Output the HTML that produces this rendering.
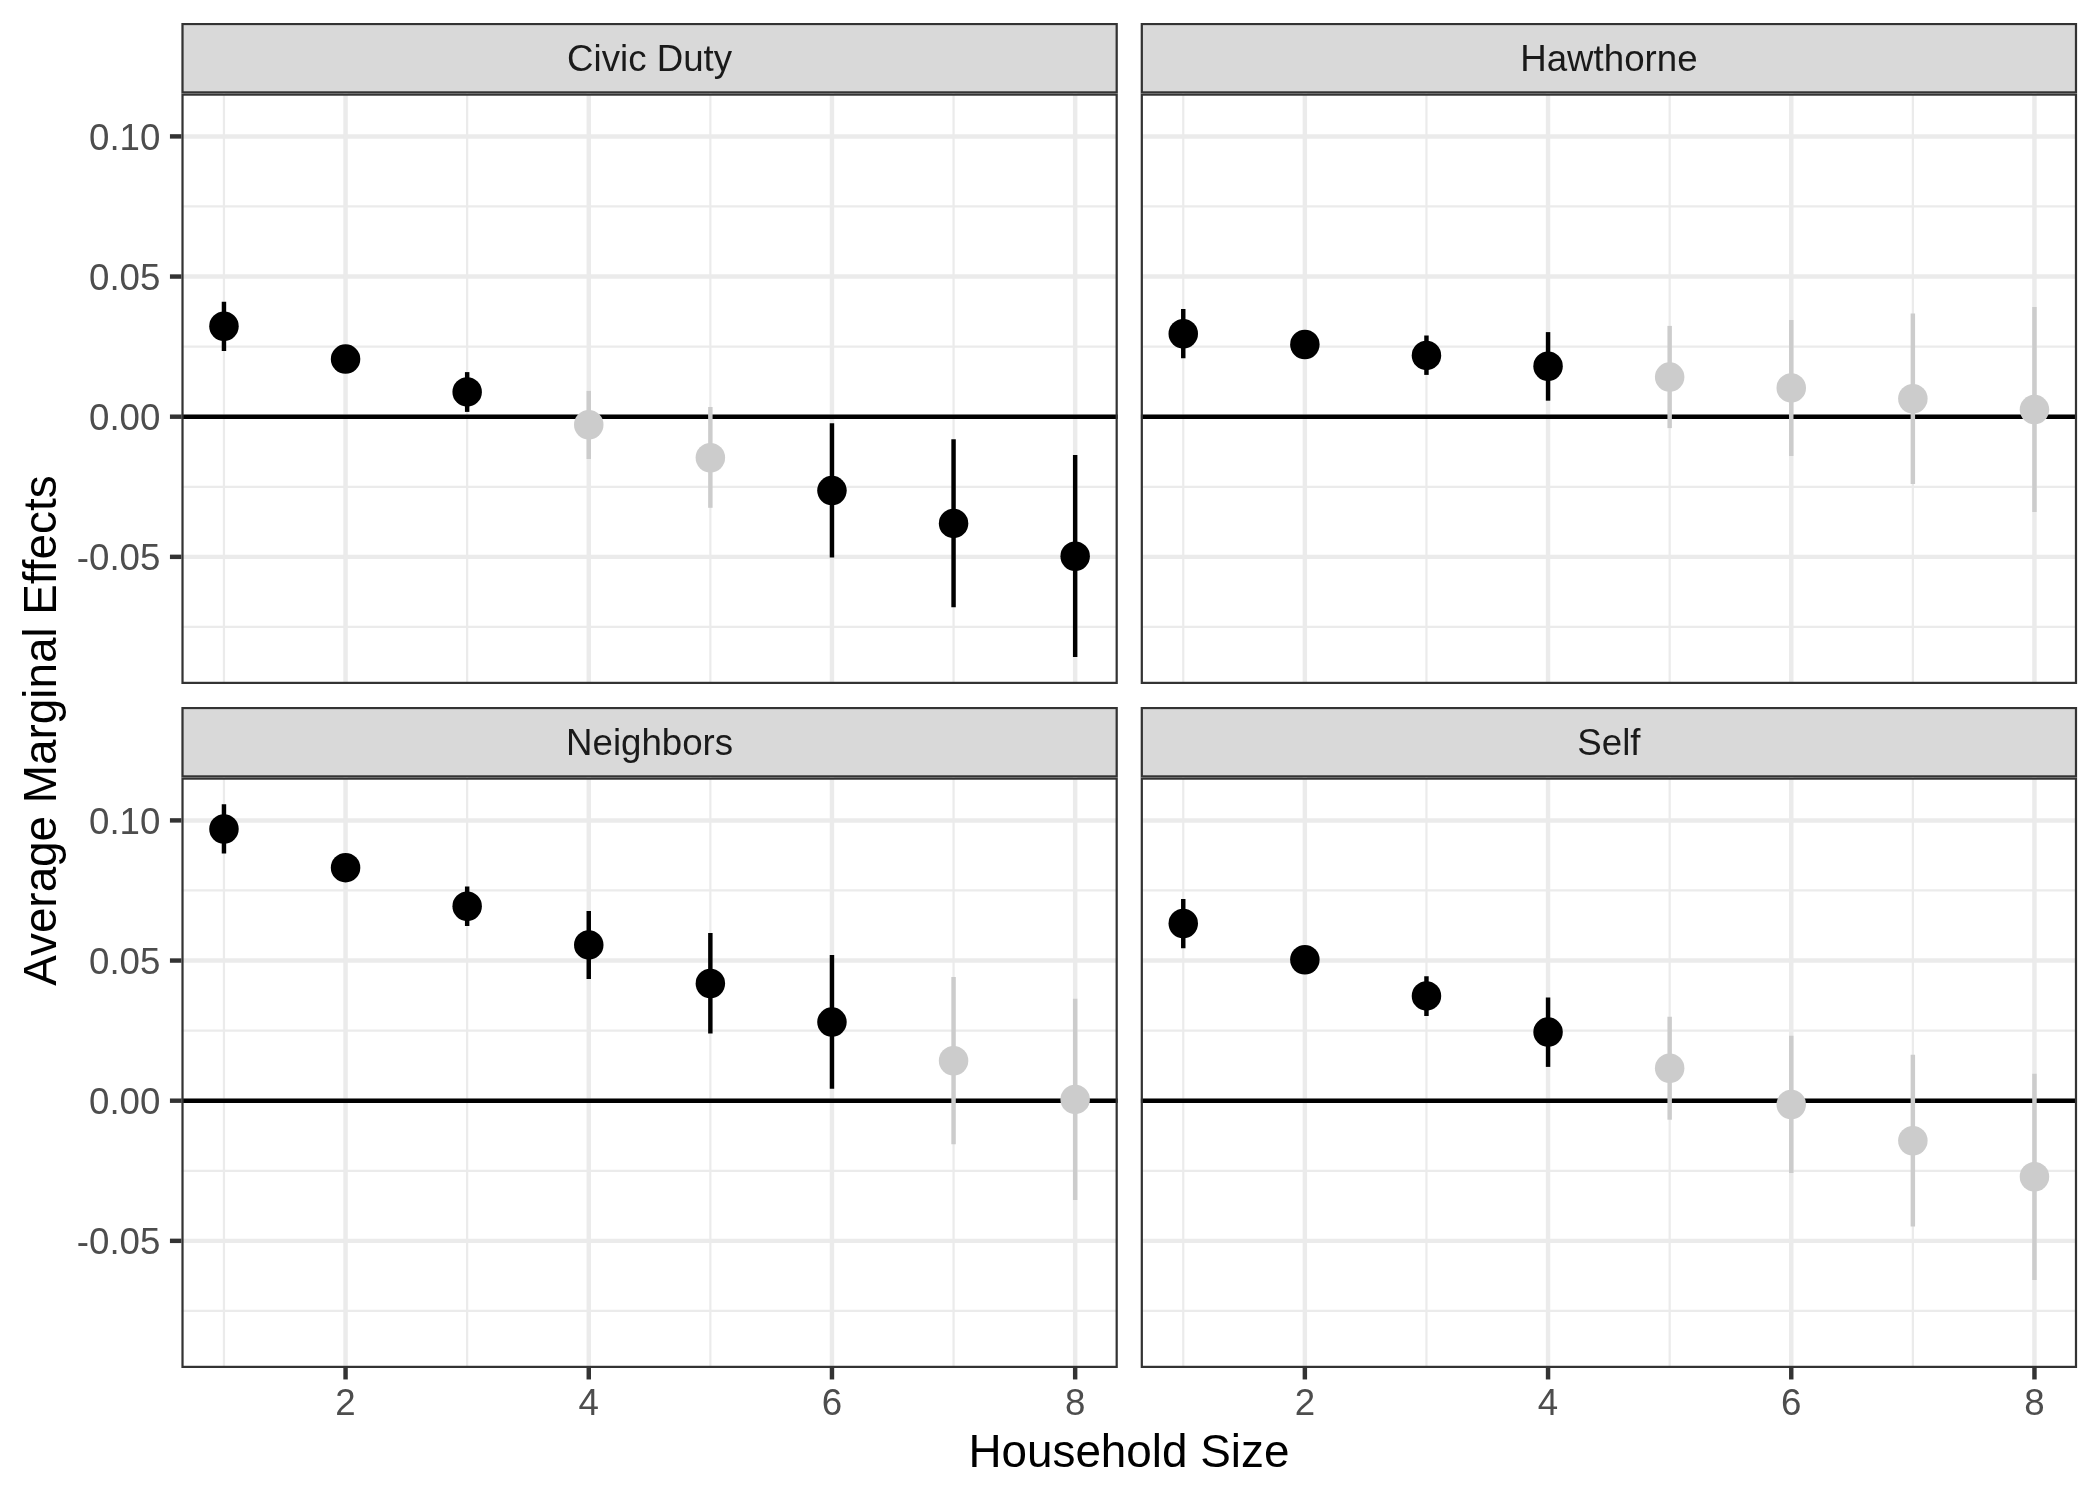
<!DOCTYPE html>
<html>
<head>
<meta charset="utf-8">
<title>Average Marginal Effects by Household Size</title>
<style>
html,body{margin:0;padding:0;background:#ffffff;}
body{width:2100px;height:1500px;overflow:hidden;}
svg{display:block;will-change:transform;}
svg text{font-family:"Liberation Sans",sans-serif;}
</style>
</head>
<body>
<svg width="2100" height="1500" viewBox="0 0 2100 1500">
<rect x="0" y="0" width="2100" height="1500" fill="#ffffff"/>
<defs>
<clipPath id="cp0"><rect x="181.4" y="93.5" width="936.40" height="590.5"/></clipPath>
<clipPath id="cs0"><rect x="181.4" y="22.9" width="936.40" height="70.60"/></clipPath>
<clipPath id="cp1"><rect x="1140.7" y="93.5" width="936.40" height="590.5"/></clipPath>
<clipPath id="cs1"><rect x="1140.7" y="22.9" width="936.40" height="70.60"/></clipPath>
<clipPath id="cp2"><rect x="181.4" y="777.5" width="936.40" height="590.5"/></clipPath>
<clipPath id="cs2"><rect x="181.4" y="706.9" width="936.40" height="70.60"/></clipPath>
<clipPath id="cp3"><rect x="1140.7" y="777.5" width="936.40" height="590.5"/></clipPath>
<clipPath id="cs3"><rect x="1140.7" y="706.9" width="936.40" height="70.60"/></clipPath>
</defs>
<g clip-path="url(#cs0)"><rect x="181.4" y="22.9" width="936.40" height="70.60" fill="#D9D9D9" stroke="#333333" stroke-width="4.45"/></g>
<text x="649.60" y="71.00" font-size="36.67" fill="#1A1A1A" text-anchor="middle">Civic Duty</text>
<g clip-path="url(#cp0)">
<rect x="181.4" y="93.5" width="936.40" height="590.5" fill="#ffffff"/>
<line x1="181.4" x2="1117.8" y1="206.48" y2="206.48" stroke="#EBEBEB" stroke-width="2.22"/>
<line x1="181.4" x2="1117.8" y1="346.62" y2="346.62" stroke="#EBEBEB" stroke-width="2.22"/>
<line x1="181.4" x2="1117.8" y1="486.77" y2="486.77" stroke="#EBEBEB" stroke-width="2.22"/>
<line x1="181.4" x2="1117.8" y1="626.92" y2="626.92" stroke="#EBEBEB" stroke-width="2.22"/>
<line x1="223.96" x2="223.96" y1="93.5" y2="684.0" stroke="#EBEBEB" stroke-width="2.22"/>
<line x1="467.16" x2="467.16" y1="93.5" y2="684.0" stroke="#EBEBEB" stroke-width="2.22"/>
<line x1="710.36" x2="710.36" y1="93.5" y2="684.0" stroke="#EBEBEB" stroke-width="2.22"/>
<line x1="953.56" x2="953.56" y1="93.5" y2="684.0" stroke="#EBEBEB" stroke-width="2.22"/>
<line x1="181.4" x2="1117.8" y1="136.40" y2="136.40" stroke="#EBEBEB" stroke-width="4.45"/>
<line x1="181.4" x2="1117.8" y1="276.55" y2="276.55" stroke="#EBEBEB" stroke-width="4.45"/>
<line x1="181.4" x2="1117.8" y1="416.70" y2="416.70" stroke="#EBEBEB" stroke-width="4.45"/>
<line x1="181.4" x2="1117.8" y1="556.85" y2="556.85" stroke="#EBEBEB" stroke-width="4.45"/>
<line x1="345.56" x2="345.56" y1="93.5" y2="684.0" stroke="#EBEBEB" stroke-width="4.45"/>
<line x1="588.76" x2="588.76" y1="93.5" y2="684.0" stroke="#EBEBEB" stroke-width="4.45"/>
<line x1="831.96" x2="831.96" y1="93.5" y2="684.0" stroke="#EBEBEB" stroke-width="4.45"/>
<line x1="1075.16" x2="1075.16" y1="93.5" y2="684.0" stroke="#EBEBEB" stroke-width="4.45"/>
<line x1="181.4" x2="1117.8" y1="416.70" y2="416.70" stroke="#000" stroke-width="4.45"/>
<line x1="223.96" x2="223.96" y1="301.7" y2="350.9" stroke="#000000" stroke-width="4.45"/>
<line x1="345.56" x2="345.56" y1="349" y2="369" stroke="#000000" stroke-width="4.45"/>
<line x1="467.16" x2="467.16" y1="372.1" y2="411.9" stroke="#000000" stroke-width="4.45"/>
<line x1="588.76" x2="588.76" y1="390.9" y2="459" stroke="#CCCCCC" stroke-width="4.45"/>
<line x1="710.36" x2="710.36" y1="407" y2="507.8" stroke="#CCCCCC" stroke-width="4.45"/>
<line x1="831.96" x2="831.96" y1="423.3" y2="557.4" stroke="#000000" stroke-width="4.45"/>
<line x1="953.56" x2="953.56" y1="439.3" y2="607.3" stroke="#000000" stroke-width="4.45"/>
<line x1="1075.16" x2="1075.16" y1="455" y2="657.1" stroke="#000000" stroke-width="4.45"/>
<circle cx="223.96" cy="326.2" r="14.75" fill="#000000"/>
<circle cx="345.56" cy="359.07" r="14.75" fill="#000000"/>
<circle cx="467.16" cy="391.94" r="14.75" fill="#000000"/>
<circle cx="588.76" cy="424.8" r="14.75" fill="#CCCCCC"/>
<circle cx="710.36" cy="457.7" r="14.75" fill="#CCCCCC"/>
<circle cx="831.96" cy="490.6" r="14.75" fill="#000000"/>
<circle cx="953.56" cy="523.4" r="14.75" fill="#000000"/>
<circle cx="1075.16" cy="556.3" r="14.75" fill="#000000"/>
<rect x="181.4" y="93.5" width="936.40" height="590.5" fill="none" stroke="#333333" stroke-width="4.45"/>
</g>
<line x1="169.94" x2="181.4" y1="136.40" y2="136.40" stroke="#333333" stroke-width="4.45"/>
<text x="160.4" y="149.70" font-size="36.67" fill="#4D4D4D" text-anchor="end">0.10</text>
<line x1="169.94" x2="181.4" y1="276.55" y2="276.55" stroke="#333333" stroke-width="4.45"/>
<text x="160.4" y="289.85" font-size="36.67" fill="#4D4D4D" text-anchor="end">0.05</text>
<line x1="169.94" x2="181.4" y1="416.70" y2="416.70" stroke="#333333" stroke-width="4.45"/>
<text x="160.4" y="430.00" font-size="36.67" fill="#4D4D4D" text-anchor="end">0.00</text>
<line x1="169.94" x2="181.4" y1="556.85" y2="556.85" stroke="#333333" stroke-width="4.45"/>
<text x="160.4" y="570.15" font-size="36.67" fill="#4D4D4D" text-anchor="end">-0.05</text>
<g clip-path="url(#cs1)"><rect x="1140.7" y="22.9" width="936.40" height="70.60" fill="#D9D9D9" stroke="#333333" stroke-width="4.45"/></g>
<text x="1608.90" y="71.00" font-size="36.67" fill="#1A1A1A" text-anchor="middle">Hawthorne</text>
<g clip-path="url(#cp1)">
<rect x="1140.7" y="93.5" width="936.40" height="590.5" fill="#ffffff"/>
<line x1="1140.7" x2="2077.1" y1="206.48" y2="206.48" stroke="#EBEBEB" stroke-width="2.22"/>
<line x1="1140.7" x2="2077.1" y1="346.62" y2="346.62" stroke="#EBEBEB" stroke-width="2.22"/>
<line x1="1140.7" x2="2077.1" y1="486.77" y2="486.77" stroke="#EBEBEB" stroke-width="2.22"/>
<line x1="1140.7" x2="2077.1" y1="626.92" y2="626.92" stroke="#EBEBEB" stroke-width="2.22"/>
<line x1="1183.26" x2="1183.26" y1="93.5" y2="684.0" stroke="#EBEBEB" stroke-width="2.22"/>
<line x1="1426.46" x2="1426.46" y1="93.5" y2="684.0" stroke="#EBEBEB" stroke-width="2.22"/>
<line x1="1669.66" x2="1669.66" y1="93.5" y2="684.0" stroke="#EBEBEB" stroke-width="2.22"/>
<line x1="1912.86" x2="1912.86" y1="93.5" y2="684.0" stroke="#EBEBEB" stroke-width="2.22"/>
<line x1="1140.7" x2="2077.1" y1="136.40" y2="136.40" stroke="#EBEBEB" stroke-width="4.45"/>
<line x1="1140.7" x2="2077.1" y1="276.55" y2="276.55" stroke="#EBEBEB" stroke-width="4.45"/>
<line x1="1140.7" x2="2077.1" y1="416.70" y2="416.70" stroke="#EBEBEB" stroke-width="4.45"/>
<line x1="1140.7" x2="2077.1" y1="556.85" y2="556.85" stroke="#EBEBEB" stroke-width="4.45"/>
<line x1="1304.86" x2="1304.86" y1="93.5" y2="684.0" stroke="#EBEBEB" stroke-width="4.45"/>
<line x1="1548.06" x2="1548.06" y1="93.5" y2="684.0" stroke="#EBEBEB" stroke-width="4.45"/>
<line x1="1791.26" x2="1791.26" y1="93.5" y2="684.0" stroke="#EBEBEB" stroke-width="4.45"/>
<line x1="2034.46" x2="2034.46" y1="93.5" y2="684.0" stroke="#EBEBEB" stroke-width="4.45"/>
<line x1="1140.7" x2="2077.1" y1="416.70" y2="416.70" stroke="#000" stroke-width="4.45"/>
<line x1="1183.26" x2="1183.26" y1="309" y2="358.2" stroke="#000000" stroke-width="4.45"/>
<line x1="1304.86" x2="1304.86" y1="334" y2="355" stroke="#000000" stroke-width="4.45"/>
<line x1="1426.46" x2="1426.46" y1="335.5" y2="374.9" stroke="#000000" stroke-width="4.45"/>
<line x1="1548.06" x2="1548.06" y1="332.1" y2="400.7" stroke="#000000" stroke-width="4.45"/>
<line x1="1669.66" x2="1669.66" y1="325.9" y2="428.1" stroke="#CCCCCC" stroke-width="4.45"/>
<line x1="1791.26" x2="1791.26" y1="320" y2="456" stroke="#CCCCCC" stroke-width="4.45"/>
<line x1="1912.86" x2="1912.86" y1="313.6" y2="484.1" stroke="#CCCCCC" stroke-width="4.45"/>
<line x1="2034.46" x2="2034.46" y1="307" y2="512" stroke="#CCCCCC" stroke-width="4.45"/>
<circle cx="1183.26" cy="333.7" r="14.75" fill="#000000"/>
<circle cx="1304.86" cy="344.5" r="14.75" fill="#000000"/>
<circle cx="1426.46" cy="355.4" r="14.75" fill="#000000"/>
<circle cx="1548.06" cy="366.2" r="14.75" fill="#000000"/>
<circle cx="1669.66" cy="377.1" r="14.75" fill="#CCCCCC"/>
<circle cx="1791.26" cy="387.9" r="14.75" fill="#CCCCCC"/>
<circle cx="1912.86" cy="398.7" r="14.75" fill="#CCCCCC"/>
<circle cx="2034.46" cy="409.6" r="14.75" fill="#CCCCCC"/>
<rect x="1140.7" y="93.5" width="936.40" height="590.5" fill="none" stroke="#333333" stroke-width="4.45"/>
</g>
<g clip-path="url(#cs2)"><rect x="181.4" y="706.9" width="936.40" height="70.60" fill="#D9D9D9" stroke="#333333" stroke-width="4.45"/></g>
<text x="649.60" y="755.00" font-size="36.67" fill="#1A1A1A" text-anchor="middle">Neighbors</text>
<g clip-path="url(#cp2)">
<rect x="181.4" y="777.5" width="936.40" height="590.5" fill="#ffffff"/>
<line x1="181.4" x2="1117.8" y1="890.48" y2="890.48" stroke="#EBEBEB" stroke-width="2.22"/>
<line x1="181.4" x2="1117.8" y1="1030.62" y2="1030.62" stroke="#EBEBEB" stroke-width="2.22"/>
<line x1="181.4" x2="1117.8" y1="1170.78" y2="1170.78" stroke="#EBEBEB" stroke-width="2.22"/>
<line x1="181.4" x2="1117.8" y1="1310.92" y2="1310.92" stroke="#EBEBEB" stroke-width="2.22"/>
<line x1="223.96" x2="223.96" y1="777.5" y2="1368.0" stroke="#EBEBEB" stroke-width="2.22"/>
<line x1="467.16" x2="467.16" y1="777.5" y2="1368.0" stroke="#EBEBEB" stroke-width="2.22"/>
<line x1="710.36" x2="710.36" y1="777.5" y2="1368.0" stroke="#EBEBEB" stroke-width="2.22"/>
<line x1="953.56" x2="953.56" y1="777.5" y2="1368.0" stroke="#EBEBEB" stroke-width="2.22"/>
<line x1="181.4" x2="1117.8" y1="820.40" y2="820.40" stroke="#EBEBEB" stroke-width="4.45"/>
<line x1="181.4" x2="1117.8" y1="960.55" y2="960.55" stroke="#EBEBEB" stroke-width="4.45"/>
<line x1="181.4" x2="1117.8" y1="1100.70" y2="1100.70" stroke="#EBEBEB" stroke-width="4.45"/>
<line x1="181.4" x2="1117.8" y1="1240.85" y2="1240.85" stroke="#EBEBEB" stroke-width="4.45"/>
<line x1="345.56" x2="345.56" y1="777.5" y2="1368.0" stroke="#EBEBEB" stroke-width="4.45"/>
<line x1="588.76" x2="588.76" y1="777.5" y2="1368.0" stroke="#EBEBEB" stroke-width="4.45"/>
<line x1="831.96" x2="831.96" y1="777.5" y2="1368.0" stroke="#EBEBEB" stroke-width="4.45"/>
<line x1="1075.16" x2="1075.16" y1="777.5" y2="1368.0" stroke="#EBEBEB" stroke-width="4.45"/>
<line x1="181.4" x2="1117.8" y1="1100.70" y2="1100.70" stroke="#000" stroke-width="4.45"/>
<line x1="223.96" x2="223.96" y1="804.3" y2="853.4" stroke="#000000" stroke-width="4.45"/>
<line x1="345.56" x2="345.56" y1="857" y2="878" stroke="#000000" stroke-width="4.45"/>
<line x1="467.16" x2="467.16" y1="886.6" y2="925.9" stroke="#000000" stroke-width="4.45"/>
<line x1="588.76" x2="588.76" y1="911" y2="978.9" stroke="#000000" stroke-width="4.45"/>
<line x1="710.36" x2="710.36" y1="933.1" y2="1033.5" stroke="#000000" stroke-width="4.45"/>
<line x1="831.96" x2="831.96" y1="955.1" y2="1088.8" stroke="#000000" stroke-width="4.45"/>
<line x1="953.56" x2="953.56" y1="977" y2="1144.3" stroke="#CCCCCC" stroke-width="4.45"/>
<line x1="1075.16" x2="1075.16" y1="998.7" y2="1199.9" stroke="#CCCCCC" stroke-width="4.45"/>
<circle cx="223.96" cy="829" r="14.75" fill="#000000"/>
<circle cx="345.56" cy="867.64" r="14.75" fill="#000000"/>
<circle cx="467.16" cy="906.28" r="14.75" fill="#000000"/>
<circle cx="588.76" cy="944.9" r="14.75" fill="#000000"/>
<circle cx="710.36" cy="983.5" r="14.75" fill="#000000"/>
<circle cx="831.96" cy="1022.1" r="14.75" fill="#000000"/>
<circle cx="953.56" cy="1060.8" r="14.75" fill="#CCCCCC"/>
<circle cx="1075.16" cy="1099.4" r="14.75" fill="#CCCCCC"/>
<rect x="181.4" y="777.5" width="936.40" height="590.5" fill="none" stroke="#333333" stroke-width="4.45"/>
</g>
<line x1="169.94" x2="181.4" y1="820.40" y2="820.40" stroke="#333333" stroke-width="4.45"/>
<text x="160.4" y="833.70" font-size="36.67" fill="#4D4D4D" text-anchor="end">0.10</text>
<line x1="169.94" x2="181.4" y1="960.55" y2="960.55" stroke="#333333" stroke-width="4.45"/>
<text x="160.4" y="973.85" font-size="36.67" fill="#4D4D4D" text-anchor="end">0.05</text>
<line x1="169.94" x2="181.4" y1="1100.70" y2="1100.70" stroke="#333333" stroke-width="4.45"/>
<text x="160.4" y="1114.00" font-size="36.67" fill="#4D4D4D" text-anchor="end">0.00</text>
<line x1="169.94" x2="181.4" y1="1240.85" y2="1240.85" stroke="#333333" stroke-width="4.45"/>
<text x="160.4" y="1254.15" font-size="36.67" fill="#4D4D4D" text-anchor="end">-0.05</text>
<line x1="345.56" x2="345.56" y1="1368.0" y2="1379.46" stroke="#333333" stroke-width="4.45"/>
<text x="345.56" y="1415.2" font-size="36.67" fill="#4D4D4D" text-anchor="middle">2</text>
<line x1="588.76" x2="588.76" y1="1368.0" y2="1379.46" stroke="#333333" stroke-width="4.45"/>
<text x="588.76" y="1415.2" font-size="36.67" fill="#4D4D4D" text-anchor="middle">4</text>
<line x1="831.96" x2="831.96" y1="1368.0" y2="1379.46" stroke="#333333" stroke-width="4.45"/>
<text x="831.96" y="1415.2" font-size="36.67" fill="#4D4D4D" text-anchor="middle">6</text>
<line x1="1075.16" x2="1075.16" y1="1368.0" y2="1379.46" stroke="#333333" stroke-width="4.45"/>
<text x="1075.16" y="1415.2" font-size="36.67" fill="#4D4D4D" text-anchor="middle">8</text>
<g clip-path="url(#cs3)"><rect x="1140.7" y="706.9" width="936.40" height="70.60" fill="#D9D9D9" stroke="#333333" stroke-width="4.45"/></g>
<text x="1608.90" y="755.00" font-size="36.67" fill="#1A1A1A" text-anchor="middle">Self</text>
<g clip-path="url(#cp3)">
<rect x="1140.7" y="777.5" width="936.40" height="590.5" fill="#ffffff"/>
<line x1="1140.7" x2="2077.1" y1="890.48" y2="890.48" stroke="#EBEBEB" stroke-width="2.22"/>
<line x1="1140.7" x2="2077.1" y1="1030.62" y2="1030.62" stroke="#EBEBEB" stroke-width="2.22"/>
<line x1="1140.7" x2="2077.1" y1="1170.78" y2="1170.78" stroke="#EBEBEB" stroke-width="2.22"/>
<line x1="1140.7" x2="2077.1" y1="1310.92" y2="1310.92" stroke="#EBEBEB" stroke-width="2.22"/>
<line x1="1183.26" x2="1183.26" y1="777.5" y2="1368.0" stroke="#EBEBEB" stroke-width="2.22"/>
<line x1="1426.46" x2="1426.46" y1="777.5" y2="1368.0" stroke="#EBEBEB" stroke-width="2.22"/>
<line x1="1669.66" x2="1669.66" y1="777.5" y2="1368.0" stroke="#EBEBEB" stroke-width="2.22"/>
<line x1="1912.86" x2="1912.86" y1="777.5" y2="1368.0" stroke="#EBEBEB" stroke-width="2.22"/>
<line x1="1140.7" x2="2077.1" y1="820.40" y2="820.40" stroke="#EBEBEB" stroke-width="4.45"/>
<line x1="1140.7" x2="2077.1" y1="960.55" y2="960.55" stroke="#EBEBEB" stroke-width="4.45"/>
<line x1="1140.7" x2="2077.1" y1="1100.70" y2="1100.70" stroke="#EBEBEB" stroke-width="4.45"/>
<line x1="1140.7" x2="2077.1" y1="1240.85" y2="1240.85" stroke="#EBEBEB" stroke-width="4.45"/>
<line x1="1304.86" x2="1304.86" y1="777.5" y2="1368.0" stroke="#EBEBEB" stroke-width="4.45"/>
<line x1="1548.06" x2="1548.06" y1="777.5" y2="1368.0" stroke="#EBEBEB" stroke-width="4.45"/>
<line x1="1791.26" x2="1791.26" y1="777.5" y2="1368.0" stroke="#EBEBEB" stroke-width="4.45"/>
<line x1="2034.46" x2="2034.46" y1="777.5" y2="1368.0" stroke="#EBEBEB" stroke-width="4.45"/>
<line x1="1140.7" x2="2077.1" y1="1100.70" y2="1100.70" stroke="#000" stroke-width="4.45"/>
<line x1="1183.26" x2="1183.26" y1="898.9" y2="948.2" stroke="#000000" stroke-width="4.45"/>
<line x1="1304.86" x2="1304.86" y1="949" y2="970" stroke="#000000" stroke-width="4.45"/>
<line x1="1426.46" x2="1426.46" y1="976.3" y2="1015.9" stroke="#000000" stroke-width="4.45"/>
<line x1="1548.06" x2="1548.06" y1="997.6" y2="1066.9" stroke="#000000" stroke-width="4.45"/>
<line x1="1669.66" x2="1669.66" y1="1016.8" y2="1119.7" stroke="#CCCCCC" stroke-width="4.45"/>
<line x1="1791.26" x2="1791.26" y1="1035.8" y2="1172.9" stroke="#CCCCCC" stroke-width="4.45"/>
<line x1="1912.86" x2="1912.86" y1="1054.7" y2="1226.6" stroke="#CCCCCC" stroke-width="4.45"/>
<line x1="2034.46" x2="2034.46" y1="1073.7" y2="1279.9" stroke="#CCCCCC" stroke-width="4.45"/>
<circle cx="1183.26" cy="923.5" r="14.75" fill="#000000"/>
<circle cx="1304.86" cy="959.7" r="14.75" fill="#000000"/>
<circle cx="1426.46" cy="995.9" r="14.75" fill="#000000"/>
<circle cx="1548.06" cy="1032.1" r="14.75" fill="#000000"/>
<circle cx="1669.66" cy="1068.3" r="14.75" fill="#CCCCCC"/>
<circle cx="1791.26" cy="1104.5" r="14.75" fill="#CCCCCC"/>
<circle cx="1912.86" cy="1140.7" r="14.75" fill="#CCCCCC"/>
<circle cx="2034.46" cy="1176.8" r="14.75" fill="#CCCCCC"/>
<rect x="1140.7" y="777.5" width="936.40" height="590.5" fill="none" stroke="#333333" stroke-width="4.45"/>
</g>
<line x1="1304.86" x2="1304.86" y1="1368.0" y2="1379.46" stroke="#333333" stroke-width="4.45"/>
<text x="1304.86" y="1415.2" font-size="36.67" fill="#4D4D4D" text-anchor="middle">2</text>
<line x1="1548.06" x2="1548.06" y1="1368.0" y2="1379.46" stroke="#333333" stroke-width="4.45"/>
<text x="1548.06" y="1415.2" font-size="36.67" fill="#4D4D4D" text-anchor="middle">4</text>
<line x1="1791.26" x2="1791.26" y1="1368.0" y2="1379.46" stroke="#333333" stroke-width="4.45"/>
<text x="1791.26" y="1415.2" font-size="36.67" fill="#4D4D4D" text-anchor="middle">6</text>
<line x1="2034.46" x2="2034.46" y1="1368.0" y2="1379.46" stroke="#333333" stroke-width="4.45"/>
<text x="2034.46" y="1415.2" font-size="36.67" fill="#4D4D4D" text-anchor="middle">8</text>
<text x="1128.9" y="1467.3" font-size="45.83" fill="#000" text-anchor="middle">Household Size</text>
<text transform="translate(55.9,730.6) rotate(-90)" font-size="45.83" fill="#000" text-anchor="middle">Average Marginal Effects</text>
</svg>
</body>
</html>
